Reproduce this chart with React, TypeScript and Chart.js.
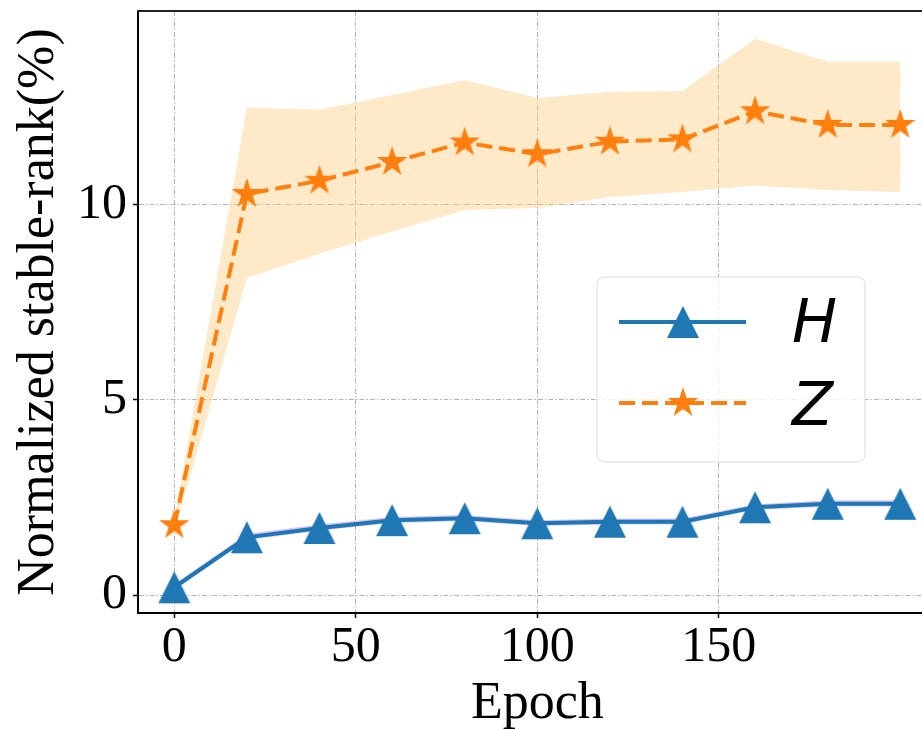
import React, { useEffect, useRef } from 'react';
import { Chart, registerables } from 'chart.js';

Chart.register(...registerables);

const epochs = [0, 20, 40, 60, 80, 100, 120, 140, 160, 180, 200];
const seriesNames = ['H', 'Z'];
const hValues = [0.2, 1.48, 1.72, 1.92, 1.97, 1.84, 1.88, 1.88, 2.25, 2.34, 2.34];
const hUpper = [0.28, 1.57, 1.81, 2.0, 2.05, 1.92, 1.96, 1.96, 2.33, 2.43, 2.43];
const hLower = [0.13, 1.41, 1.65, 1.85, 1.9, 1.77, 1.81, 1.81, 2.18, 2.27, 2.27];
const zValues = [1.79, 10.28, 10.62, 11.1, 11.6, 11.3, 11.62, 11.68, 12.4, 12.05, 12.05];
const zUpper = [1.95, 12.49, 12.44, 12.82, 13.2, 12.74, 12.9, 12.92, 14.26, 13.67, 13.67];
const zLower = [1.62, 8.13, 8.75, 9.32, 9.87, 9.92, 10.2, 10.33, 10.5, 10.38, 10.33];
const xTickValues = [0, 50, 100, 150];
const yTickValues = [0, 5, 10];

const BLUE = '#1f77b4';
const ORANGE = '#ff7f0e';
const SERIF = "'Liberation Serif', 'Times New Roman', serif";
const GRID = '#b4b4b4';

function makeTriangle(size: number, color: string) {
  const c = document.createElement('canvas');
  c.width = size + 2;
  c.height = size + 2;
  const g = c.getContext('2d')!;
  g.fillStyle = color;
  g.beginPath();
  g.moveTo(c.width / 2, 1);
  g.lineTo(1, size + 1);
  g.lineTo(size + 1, size + 1);
  g.closePath();
  g.fill();
  return c;
}

function makeStar(R: number, color: string) {
  const c = document.createElement('canvas');
  c.width = 2 * R + 2;
  c.height = 2 * R + 2;
  const g = c.getContext('2d')!;
  const cx = R + 1;
  const cy = R + 1;
  g.fillStyle = color;
  g.beginPath();
  for (let k = 0; k < 10; k++) {
    const a = -Math.PI / 2 + (k * Math.PI) / 5;
    const r = k % 2 === 0 ? R : R * 0.382;
    const px = cx + r * Math.cos(a);
    const py = cy + r * Math.sin(a);
    if (k === 0) g.moveTo(px, py);
    else g.lineTo(px, py);
  }
  g.closePath();
  g.fill();
  return c;
}

export default function App() {
  const ref = useRef<HTMLCanvasElement>(null);

  useEffect(() => {
    const tri = makeTriangle(32, BLUE);
    const star = makeStar(16, ORANGE);
    const pts = (ys: number[]) => epochs.map((x, i) => ({ x, y: ys[i] }));

    const framePlugin = {
      id: 'frameAndLegend',
      afterDatasetsDraw(chart: any) {
        const ctx = chart.ctx as CanvasRenderingContext2D;
        const area = chart.chartArea;
        ctx.save();
        // top spine
        ctx.strokeStyle = '#222';
        ctx.lineWidth = 2;
        ctx.setLineDash([]);
        ctx.beginPath();
        ctx.moveTo(area.left - 1, area.top);
        ctx.lineTo(area.right, area.top);
        ctx.stroke();

        // legend box
        const bx = 597, by = 277, bw = 268, bh = 185, br = 8;
        ctx.beginPath();
        ctx.moveTo(bx + br, by);
        ctx.lineTo(bx + bw - br, by);
        ctx.quadraticCurveTo(bx + bw, by, bx + bw, by + br);
        ctx.lineTo(bx + bw, by + bh - br);
        ctx.quadraticCurveTo(bx + bw, by + bh, bx + bw - br, by + bh);
        ctx.lineTo(bx + br, by + bh);
        ctx.quadraticCurveTo(bx, by + bh, bx, by + bh - br);
        ctx.lineTo(bx, by + br);
        ctx.quadraticCurveTo(bx, by, bx + br, by);
        ctx.closePath();
        ctx.fillStyle = 'rgba(255,255,255,0.8)';
        ctx.fill();
        ctx.strokeStyle = '#dcdcdc';
        ctx.lineWidth = 1;
        ctx.stroke();

        const rows = [322, 403];
        const baselines = [342, 425];
        chart.data.datasets.slice(0, 2).forEach((ds: any, i: number) => {
          const y = rows[i];
          ctx.strokeStyle = ds.borderColor;
          ctx.lineWidth = 4;
          ctx.setLineDash(ds.borderDash || []);
          ctx.beginPath();
          ctx.moveTo(619, y);
          ctx.lineTo(746, y);
          ctx.stroke();
          ctx.setLineDash([]);
          const img = ds.pointStyle as HTMLCanvasElement;
          ctx.drawImage(img, 683 - img.width / 2, y - img.height / 2);
          ctx.fillStyle = '#000';
          ctx.font = "italic 60px 'DejaVu Sans'";
          ctx.textAlign = 'left';
          ctx.textBaseline = 'alphabetic';
          ctx.fillText(ds.label, 792, baselines[i]);
        });
        ctx.restore();
      },
    };

    const chart = new Chart(ref.current!, {
      type: 'line',
      data: {
        datasets: [
          {
            label: seriesNames[0],
            data: pts(hValues),
            borderColor: BLUE,
            borderWidth: 4,
            pointStyle: tri as any,
            pointRadius: 16,
            fill: false,
            tension: 0,
          },
          {
            label: seriesNames[1],
            data: pts(zValues),
            borderColor: ORANGE,
            borderWidth: 4,
            borderDash: [16, 7],
            pointStyle: star as any,
            pointRadius: 16,
            fill: false,
            tension: 0,
          },
          {
            label: 'Z upper',
            data: pts(zUpper),
            borderColor: 'rgba(0,0,0,0)',
            borderWidth: 0,
            pointRadius: 0,
            fill: '+1',
            backgroundColor: 'rgba(252, 200, 120, 0.4)',
          },
          {
            label: 'Z lower',
            data: pts(zLower),
            borderColor: 'rgba(0,0,0,0)',
            borderWidth: 0,
            pointRadius: 0,
            fill: false,
          },
          {
            label: 'H upper',
            data: pts(hUpper),
            borderColor: 'rgba(0,0,0,0)',
            borderWidth: 0,
            pointRadius: 0,
            fill: '+1',
            backgroundColor: 'rgba(150, 110, 240, 0.4)',
          },
          {
            label: 'H lower',
            data: pts(hLower),
            borderColor: 'rgba(0,0,0,0)',
            borderWidth: 0,
            pointRadius: 0,
            fill: false,
          },
        ],
      },
      options: {
        animation: false,
        responsive: false,
        devicePixelRatio: 1,
        events: [],
        layout: { autoPadding: false, padding: { top: 11, right: 3.4, left: 0, bottom: 0 } },
        plugins: { legend: { display: false }, tooltip: { enabled: false } },
        scales: {
          x: {
            type: 'linear',
            min: -10,
            max: 210,
            afterBuildTicks: (s: any) => {
              s.ticks = xTickValues.map((v) => ({ value: v }));
            },
            afterFit: (s: any) => {
              s.height = 117;
              s.paddingLeft = 0;
              s.paddingRight = 0;
              s.paddingTop = 0;
              s.paddingBottom = 0;
            },
            grid: {
              color: GRID,
              lineWidth: 1,
              tickLength: 5,
              tickColor: '#000',
              tickWidth: 1.5,
              tickBorderDash: [],
            } as any,
            border: { display: true, color: '#000', width: 2, dash: [5, 2, 1.5, 2] },
            ticks: {
              font: { family: SERIF, size: 50 },
              color: '#000',
              padding: 0,
              maxRotation: 0,
              autoSkip: false,
            },
            title: {
              display: true,
              text: 'Epoch',
              font: { family: SERIF, size: 52, lineHeight: 1 },
              color: '#000',
              padding: 0,
            },
          },
          y: {
            type: 'linear',
            min: -0.46,
            max: 14.97,
            afterBuildTicks: (s: any) => {
              s.ticks = yTickValues.map((v) => ({ value: v }));
            },
            afterFit: (s: any) => {
              s.width = 138;
              s.paddingLeft = 0;
              s.paddingRight = 0;
              s.paddingTop = 0;
              s.paddingBottom = 0;
            },
            grid: {
              color: GRID,
              lineWidth: 1,
              tickLength: 5,
              tickColor: '#000',
              tickWidth: 1.5,
              tickBorderDash: [],
            } as any,
            border: { display: true, color: '#000', width: 2, dash: [5, 2, 1.5, 2] },
            ticks: {
              font: { family: SERIF, size: 50 },
              color: '#000',
              padding: 6,
              autoSkip: false,
            },
            title: {
              display: true,
              text: 'Normalized stable-rank(%)',
              font: { family: SERIF, size: 52, lineHeight: 1 },
              color: '#000',
              padding: { top: 13, bottom: 0 },
            },
          },
        },
      },
      plugins: [framePlugin],
    });
    return () => chart.destroy();
  }, []);

  return (
    <div
      style={{
        position: 'absolute',
        left: 0,
        top: 0,
        width: 922,
        height: 730,
        overflow: 'hidden',
        background: '#fff',
      }}
    >
      <canvas ref={ref} width={940} height={730} style={{ display: 'block', width: 940, height: 730 }} />
    </div>
  );
}
